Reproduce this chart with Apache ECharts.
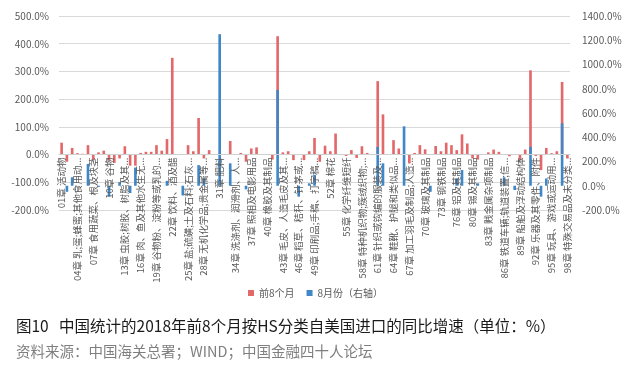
<!DOCTYPE html>
<html>
<head>
<meta charset="utf-8">
<script src="https://cdn.jsdelivr.net/npm/echarts@6/dist/echarts.min.js"></script>
<style>
  html, body { margin: 0; padding: 0; background: #fff; }
  #chart { width: 635px; height: 378px; }
</style>
</head>
<body>
<div id="chart"></div>
<script>
// HS章节（77章不存在）
var categories = [
  '01章 活动物', '02章 肉及食用杂碎', '03章 鱼及水生动物', '04章 乳;蛋;蜂蜜;其他食用动...',
  '05章 其他动物产品', '06章 活植物', '07章 食用蔬菜、根及块茎', '08章 食用水果及坚果',
  '09章 咖啡、茶及调味香料', '10章 谷物', '11章 制粉工业产品', '12章 含油子仁及果实',
  '13章 虫胶;树胶、树脂及其...', '14章 编结用植物材料', '15章 动、植物油脂', '16章 肉、鱼及其他水生无...',
  '17章 糖及糖食', '18章 可可及可可制品', '19章 谷物粉、淀粉等或乳的...', '20章 蔬菜、水果等制品',
  '21章 杂项食品', '22章 饮料、酒及醋', '23章 食品工业残渣及饲料', '24章 烟草',
  '25章 盐;硫磺;土及石料;石灰...', '26章 矿砂、矿渣及矿灰', '27章 矿物燃料', '28章 无机化学品;贵金属等...',
  '29章 有机化学品', '30章 药品', '31章 肥料', '32章 鞣料、染料、颜料',
  '33章 精油及香膏', '34章 洗涤剂、润滑剂、人...', '35章 蛋白类物质;胶;酶', '36章 炸药;烟火制品',
  '37章 照相及电影用品', '38章 杂项化学产品', '39章 塑料及其制品', '40章 橡胶及其制品',
  '41章 生皮及皮革', '42章 皮革制品', '43章 毛皮、人造毛皮及其...', '44章 木及木制品',
  '45章 软木及软木制品', '46章 稻草、秸秆、针茅或...', '47章 木浆', '48章 纸及纸板',
  '49章 印刷品;手稿、打字稿...', '50章 蚕丝', '51章 羊毛', '52章 棉花',
  '53章 其他植物纺织纤维', '54章 化学纤维长丝', '55章 化学纤维短纤', '56章 絮胎、毡呢及无纺织物',
  '57章 地毯', '58章 特种机织物;簇绒织物;...', '59章 浸渍、涂布的纺织物', '60章 针织物及钩编织物',
  '61章 针织或钩编的服装及...', '62章 非针织服装', '63章 其他纺织制成品', '64章 鞋靴、护腿和类似品...',
  '65章 帽类', '66章 雨伞、手杖', '67章 加工羽毛及制品;人造...', '68章 石料、石膏制品',
  '69章 陶瓷产品', '70章 玻璃及其制品', '71章 珠宝、贵金属', '72章 钢铁',
  '73章 钢铁制品', '74章 铜及其制品', '75章 镍及其制品', '76章 铝及其制品',
  '78章 铅及其制品', '79章 锌及其制品', '80章 锡及其制品', '81章 其他贱金属',
  '82章 贱金属工具', '83章 贱金属杂项制品', '84章 机器、机械器具', '85章 电机、电气设备',
  '86章 铁道车辆;轨道装置;信...', '87章 车辆及其零件', '88章 航空器、航天器', '89章 船舶及浮动结构体',
  '90章 光学、医疗仪器', '91章 钟表', '92章 乐器及其零件、附件', '93章 武器、弹药',
  '94章 家具;寝具;灯具', '95章 玩具、游戏或运动用...', '96章 杂项制品', '97章 艺术品、收藏品',
  '98章 特殊交易品及未分类...'
];

// 前8个月同比（%），左轴
var first8 = [
  43, -26, 24, 5, 3, 34, -20, 8, 14, -22,
  -30, -14, 30, -40, -40, 6, 10, 10, 34, 14,
  56, 349, 0, 0, 34, 12, 132, -14, 16, 0,
  5, 0, 49, 0, 6, -26, 22, 26, 0, 0,
  -18, 427, 8, 12, -20, 0, -20, 12, 60, -26,
  32, 12, 76, 0, -5, 16, -12, 30, 6, 0,
  265, 145, 0, 52, 22, 0, -32, 6, 34, 19,
  0, 31, 12, 43, 34, 16, 73, 40, -14, -18,
  0, 8, 18, 10, 0, -6, 0, -20, 18, 304,
  -5, -56, 24, 5, 12, 262, -14
];

// 8月份同比（%），右轴
var aug = [
  0, -50, 70, 0, 0, 180, 0, -10, 0, -90,
  0, 30, 0, -60, 150, 0, 0, 0, 0, 0,
  40, 0, 0, -80, 0, 0, 170, 60, 0, 0,
  1250, 0, 185, 0, 0, -30, 0, 0, 0, 0,
  0, 790, 0, 0, 0, -90, 0, 20, 90, 0,
  0, 0, 0, 0, 0, 0, 0, 0, 0, 0,
  320, 185, 0, 0, 0, 490, 0, 0, 0, 0,
  -50, 0, 0, 0, 0, 60, 130, 0, 0, 20,
  0, 0, 0, 0, 70, 0, -35, 0, 0, 320,
  0, -90, 60, 0, 0, 515, 0
];

var leftTicks = { min: -200, max: 500, interval: 100 };
var rightTicks = { min: -200, max: 1400, interval: 200 };

var font = '"Noto Sans CJK SC", "Noto Sans", sans-serif';
var chart = echarts.init(document.getElementById('chart'), null, { renderer: 'canvas' });

function pct(v) { return v.toFixed(1) + '%'; }

// 网格：上16，下210；x轴放在左轴0值处（向上偏移）
var gridTop = 16, gridBottom = 210;
var zeroY = gridBottom - (0 - leftTicks.min) / (leftTicks.max - leftTicks.min) * (gridBottom - gridTop);

chart.setOption({
  animation: false,
  textStyle: { fontFamily: font },
  grid: { left: 59, right: 65, top: gridTop, bottom: 378 - gridBottom, containLabel: false, outerBoundsMode: 'none' },
  legend: {
    top: 283,
    left: 243,
    itemWidth: 6,
    itemHeight: 6,
    itemGap: 12,
    icon: 'rect',
    textStyle: { fontSize: 10, color: '#595959', fontFamily: font },
    data: ['前8个月', '8月份（右轴）']
  },
  xAxis: {
    type: 'category',
    data: categories,
    z: 10,
    offset: -(gridBottom - zeroY),
    axisLine: { onZero: false, lineStyle: { color: '#d0d0d0', width: 1 } },
    axisTick: { show: false },
    axisLabel: {
      interval: 2,
      rotate: 90,
      margin: 3,
      fontSize: 9.5,
      color: '#595959',
      fontFamily: font
    }
  },
  yAxis: [
    {
      type: 'value',
      min: leftTicks.min, max: leftTicks.max, interval: leftTicks.interval,
      axisLine: { show: false },
      axisTick: { show: false },
      splitLine: { lineStyle: { color: '#d9d9d9' } },
      axisLabel: { formatter: pct, fontSize: 10, color: '#595959', margin: 10 }
    },
    {
      type: 'value',
      min: rightTicks.min, max: rightTicks.max, interval: rightTicks.interval,
      axisLine: { show: false },
      axisTick: { show: false },
      splitLine: { show: false },
      axisLabel: { formatter: pct, fontSize: 10, color: '#595959', margin: 12 }
    }
  ],
  series: [
    {
      name: '前8个月',
      type: 'bar',
      yAxisIndex: 0,
      data: first8,
      barWidth: '50%',
      barGap: '-100%',
      itemStyle: { color: '#e2686a' }
    },
    {
      name: '8月份（右轴）',
      type: 'bar',
      yAxisIndex: 1,
      data: aug,
      barWidth: '50%',
      barGap: '-100%',
      itemStyle: { color: '#3f87c6' }
    }
  ],
  graphic: [
    {
      type: 'text', left: 16, top: 318,
      style: { text: '图10   中国统计的2018年前8个月按HS分类自美国进口的同比增速（单位：%）', fontSize: 15.5, fill: '#1a1a1a', fontFamily: font }
    },
    {
      type: 'text', left: 16, top: 344,
      style: { text: '资料来源：中国海关总署；WIND；中国金融四十人论坛', fontSize: 14.5, fill: '#7f7f7f', fontFamily: font }
    }
  ]
});
</script>
</body>
</html>
